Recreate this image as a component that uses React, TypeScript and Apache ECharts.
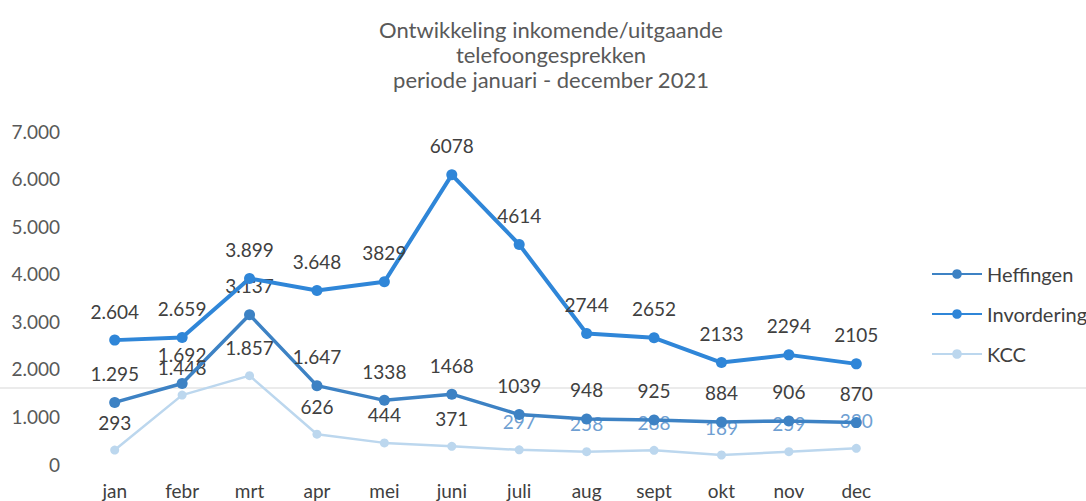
import React, { useEffect, useRef } from "react";
import * as echarts from "echarts";

const months = ["jan", "febr", "mrt", "apr", "mei", "juni", "juli", "aug", "sept", "okt", "nov", "dec"];
const heffingen = [1295, 1692, 3137, 1647, 1338, 1468, 1039, 948, 925, 884, 906, 870];
const invordering = [2604, 2659, 3899, 3648, 3829, 6078, 4614, 2744, 2652, 2133, 2294, 2105];
const kcc = [293, 1448, 1857, 626, 444, 371, 297, 258, 288, 189, 259, 330];
const yTicks = [0, 1000, 2000, 3000, 4000, 5000, 6000, 7000];

const FONT = "Lato, 'Open Sans', sans-serif";
const dotFmt = (v: number) => String(v).replace(/\B(?=(\d{3})+(?!\d))/g, ".");

export default function App() {
  const ref = useRef<HTMLDivElement>(null);
  useEffect(() => {
    if (!ref.current) return;
    const chart = echarts.init(ref.current, undefined, { renderer: "svg" });
    const labelFmt = (p: any) => (p.dataIndex < 4 ? dotFmt(p.value) : String(p.value));
    const baseLabel = {
      show: true,
      position: "top" as const,
      distance: 14,
      fontFamily: FONT,
      fontSize: 19,
      color: "#404040",
      formatter: labelFmt,
    };
    chart.setOption({
      animation: false,
      backgroundColor: "#ffffff",
      title: {
        text: "Ontwikkeling inkomende/uitgaande\ntelefoongesprekken\nperiode januari - december 2021",
        left: 546,
        textAlign: "center",
        top: 12,
        textStyle: { fontFamily: FONT, fontSize: 22, fontWeight: "normal", color: "#595959", lineHeight: 25 },
      },
      legend: {
        orient: "vertical",
        left: 926,
        top: 259,
        itemWidth: 50,
        itemHeight: 12,
        itemGap: 20,
        textStyle: { fontFamily: FONT, fontSize: 20, color: "#404040" },
        data: ["Heffingen", "Invordering", "KCC"],
      },
      grid: { left: 81, right: 196, top: 131, bottom: 37 },
      xAxis: {
        type: "category",
        data: months,
        boundaryGap: true,
        axisLine: { show: false },
        axisTick: { show: false },
        axisLabel: { fontFamily: FONT, fontSize: 19, lineHeight: 18, color: "#404040", margin: 17 },
      },
      yAxis: {
        type: "value",
        min: yTicks[0],
        max: yTicks[yTicks.length - 1],
        interval: 1000,
        splitLine: { show: false },
        axisLine: { show: false },
        axisTick: { show: false },
        axisLabel: { fontFamily: FONT, fontSize: 19, color: "#595959", margin: 21, formatter: (v: number) => dotFmt(v) },
      },
      graphic: [
        {
          type: "line",
          shape: { x1: 0, y1: 388, x2: 1086, y2: 388 },
          style: { stroke: "#ebebeb", lineWidth: 2 },
          z: -1,
        },
      ],
      series: [
        {
          name: "KCC",
          type: "line",
          data: kcc.map((v, i) => ({ value: v, label: { color: i >= 6 ? "#6f9fd2" : "#404040" } })),
          symbol: "circle",
          symbolSize: 9,
          itemStyle: { color: "#bcd7ee" },
          lineStyle: { color: "#bcd7ee", width: 2.5 },
          label: baseLabel,
          z: 1,
        },
        {
          name: "Heffingen",
          type: "line",
          data: heffingen,
          symbol: "circle",
          symbolSize: 11,
          itemStyle: { color: "#3d82c4" },
          lineStyle: { color: "#3d82c4", width: 3.5 },
          label: baseLabel,
          z: 2,
        },
        {
          name: "Invordering",
          type: "line",
          data: invordering,
          symbol: "circle",
          symbolSize: 11,
          itemStyle: { color: "#2f86d8" },
          lineStyle: { color: "#2f86d8", width: 4 },
          label: baseLabel,
          z: 3,
        },
      ],
    });
    return () => chart.dispose();
  }, []);
  return <div ref={ref} style={{ width: 1086, height: 501, position: "absolute", left: 0, top: 0 }} />;
}
